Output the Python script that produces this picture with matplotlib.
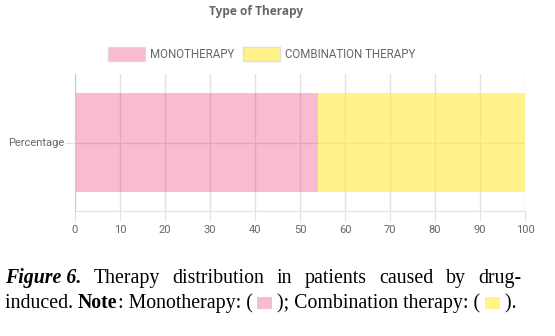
import matplotlib.pyplot as plt
from matplotlib.patches import Rectangle

categories = ['Percentage']
series_names = ['MONOTHERAPY', 'COMBINATION THERAPY']
series_values = [[54], [46]]
series_colors = [(233/255, 30/255, 99/255, 0.3), (255/255, 235/255, 59/255, 0.6)]
x_ticks = [0, 10, 20, 30, 40, 50, 60, 70, 80, 90, 100]

title = 'Type of Therapy'
caption_line1 = ['Therapy', 'distribution', 'in', 'patients', 'caused', 'by', 'drug-']

W, H = 555, 336
fig = plt.figure(figsize=(W / 100, H / 100), dpi=100)
ax = fig.add_axes([75 / W, (H - 211) / H, 450 / W, 137 / H])

sans = ['Liberation Sans Narrow', 'Roboto', 'DejaVu Sans']
grid_c = '#e2e2e2'
text_c = '#666666'

left = [0] * len(categories)
for name, vals, col in zip(series_names, series_values, series_colors):
    ax.barh(categories, vals, left=left, height=0.72, color=col, label=name, zorder=2)
    left = [a + b for a, b in zip(left, vals)]

ax.set_xlim(0, 100)
ax.set_ylim(-0.5, 0.5)
ax.set_xticks(x_ticks)
ax.xaxis.grid(True, color=grid_c, linewidth=1, zorder=0)
ax.yaxis.grid(True, color=grid_c, linewidth=1, zorder=0)
ax.set_axisbelow(True)
for s in ['top', 'right']:
    ax.spines[s].set_visible(False)
ax.spines['bottom'].set_color(grid_c)
ax.spines['left'].set_color('#c8c8c8')
ax.tick_params(axis='both', length=7, color=grid_c, labelcolor=text_c, labelsize=8, pad=3)
ax.tick_params(axis='y', pad=1)
for lbl in ax.get_xticklabels() + ax.get_yticklabels():
    lbl.set_family(sans)

fig.text(256 / W, 1 - 12 / H, title, ha='center', va='center', fontsize=8.6,
         fontweight='bold', color=text_c, family=['Open Sans', 'DejaVu Sans'])

leg = fig.legend(loc='center', bbox_to_anchor=(262 / W, 1 - 54 / H), ncol=2, frameon=False,
                 handlelength=3.2, handleheight=1.6, handletextpad=0.45, columnspacing=0.75,
                 prop={'family': sans, 'size': 8.3})
for t in leg.get_texts():
    t.set_color(text_c)
for h in leg.legend_handles:
    h.set_edgecolor((0.85, 0.85, 0.85, 0.8))

# caption
serif = ['Liberation Serif', 'DejaVu Serif']
fs = 14.3
fig.canvas.draw()
r = fig.canvas.get_renderer()
y1 = 1 - 283 / H
y2 = 1 - 308 / H

def put(x_px, y, s, **kw):
    t = fig.text(x_px / W, y, s, ha='left', va='baseline', fontsize=fs, family=serif, **kw)
    return t, t.get_window_extent(r).width

# line 1, justified from 5 to 521 px
pieces = [('Figure 6.', dict(fontweight='bold', style='italic'))] + [(w, {}) for w in caption_line1]
widths = []
for s, kw in pieces:
    t, w = put(0, y1, s, **kw)
    widths.append(w)
    t.remove()
gap = (521 - 5 - sum(widths)) / (len(pieces) - 1)
x = 5
for (s, kw), w in zip(pieces, widths):
    put(x, y1, s, **kw)
    x += w + gap

# line 2 with colour swatches
x = 5
line2 = [('induced. ', {}), ('Note', dict(fontweight='bold')), (': Monotherapy: ( ', {}),
         ('SW0', {}), (' ); Combination therapy: ( ', {}), ('SW1', {}), (' ).', {})]
for s, kw in line2:
    if s.startswith('SW'):
        i = int(s[2])
        col = series_colors[i]
        fig.patches.append(Rectangle((x / W, y2 - 1 / H), 15 / W, 12 / H, transform=fig.transFigure,
                                     facecolor=col, edgecolor='none'))
        x += 15
    else:
        t, w = put(x, y2, s, **kw)
        x += w

fig.savefig('out.png', dpi=100)
